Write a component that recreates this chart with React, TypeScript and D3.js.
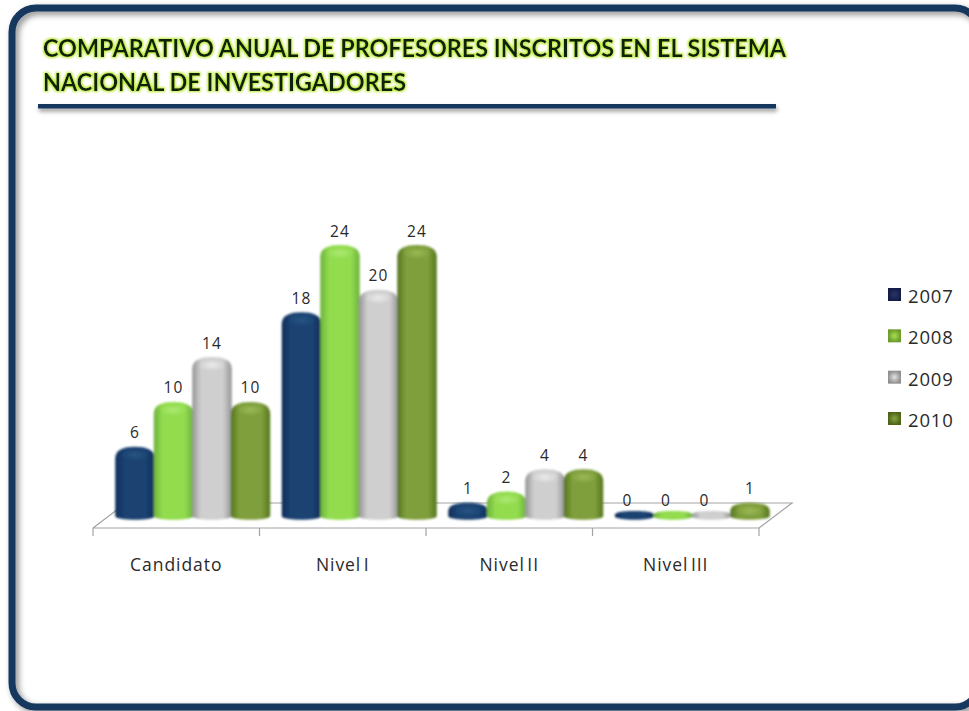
import React, { useEffect, useRef } from "react";
import * as d3 from "d3";

const categories = ["Candidato", "Nivel I", "Nivel II", "Nivel III"];
const years = ["2007", "2008", "2009", "2010"];
const values2007 = [6, 18, 1, 0];
const values2008 = [10, 24, 2, 0];
const values2009 = [14, 20, 4, 0];
const values2010 = [10, 24, 4, 1];
const seriesValues = [values2007, values2008, values2009, values2010];
const titleLines = [
  "COMPARATIVO ANUAL DE PROFESORES INSCRITOS EN EL SISTEMA",
  "NACIONAL DE INVESTIGADORES",
];

// edge, middle, highlight colour per series
const barColors = [
  ["#0f2c58", "#1a4272", "#275684"],
  ["#6db23c", "#92dc4e", "#aeea74"],
  ["#959595", "#cfcfcf", "#ececec"],
  ["#55761f", "#7f9f3c", "#9dbb58"],
];
const swatchColors = [
  ["#141c48", "#2a3568"],
  ["#6c9a2c", "#a8e04e"],
  ["#8f8f8f", "#e2e2e2"],
  ["#4d6418", "#86a33c"],
];

const FONT = "Lato, 'Open Sans', sans-serif";
const LABEL_FONT = "'Open Sans', Lato, sans-serif";
const NAVY = "#17375e";

const App = () => {
  const ref = useRef<SVGSVGElement | null>(null);

  useEffect(() => {
    const svg = d3.select(ref.current);
    svg.selectAll("*").remove();

    const defs = svg.append("defs");

    // soft shadow for frame and title rule
    const shadow = defs.append("filter").attr("id", "shadow")
      .attr("filterUnits", "userSpaceOnUse")
      .attr("x", 0).attr("y", 0).attr("width", 1000).attr("height", 720);
    shadow.append("feDropShadow").attr("dx", 3).attr("dy", 3)
      .attr("stdDeviation", 3).attr("flood-color", "#000").attr("flood-opacity", 0.45);

    const ruleShadow = defs.append("filter").attr("id", "ruleShadow")
      .attr("x", "-2%").attr("y", "-300%").attr("width", "104%").attr("height", "800%");
    ruleShadow.append("feDropShadow").attr("dx", 1).attr("dy", 3)
      .attr("stdDeviation", 2).attr("flood-color", "#000").attr("flood-opacity", 0.4);

    // green halo round the title
    const glow = defs.append("filter").attr("id", "glow")
      .attr("x", "-3%").attr("y", "-30%").attr("width", "106%").attr("height", "160%");
    glow.append("feMorphology").attr("in", "SourceAlpha").attr("operator", "dilate")
      .attr("radius", 1.2).attr("result", "fat");
    glow.append("feGaussianBlur").attr("in", "fat").attr("stdDeviation", 1.2).attr("result", "soft");
    glow.append("feFlood").attr("flood-color", "#b5e61d").attr("flood-opacity", 0.9).attr("result", "tint");
    glow.append("feComposite").attr("in", "tint").attr("in2", "soft").attr("operator", "in").attr("result", "halo");
    const merge = glow.append("feMerge");
    merge.append("feMergeNode").attr("in", "halo");
    merge.append("feMergeNode").attr("in", "SourceGraphic");

    const blur = defs.append("filter").attr("id", "blur");
    blur.append("feGaussianBlur").attr("stdDeviation", 0.8);

    barColors.forEach((c, i) => {
      const grad = defs.append("linearGradient").attr("id", `bar${i}`);
      grad.append("stop").attr("offset", "0%").attr("stop-color", c[0]);
      grad.append("stop").attr("offset", "22%").attr("stop-color", c[1]);
      grad.append("stop").attr("offset", "78%").attr("stop-color", c[1]);
      grad.append("stop").attr("offset", "100%").attr("stop-color", c[0]);

      const top = defs.append("radialGradient").attr("id", `top${i}`);
      top.append("stop").attr("offset", "0%").attr("stop-color", c[2]).attr("stop-opacity", 0.95);
      top.append("stop").attr("offset", "100%").attr("stop-color", c[2]).attr("stop-opacity", 0);
    });
    swatchColors.forEach((c, i) => {
      const grad = defs.append("radialGradient").attr("id", `swatch${i}`);
      grad.append("stop").attr("offset", "0%").attr("stop-color", c[1]);
      grad.append("stop").attr("offset", "100%").attr("stop-color", c[0]);
    });

    // frame, unfilled so that its shadow falls on the white inside
    svg.append("rect")
      .attr("x", 12).attr("y", 8).attr("width", 967).attr("height", 699)
      .attr("rx", 24).attr("fill", "none")
      .attr("stroke", NAVY).attr("stroke-width", 7)
      .attr("filter", "url(#shadow)");

    // title
    const titleWidths = [743, 363];
    svg.append("g").selectAll("text").data(titleLines).enter().append("text")
      .attr("x", 43)
      .attr("y", (d, i) => 57 + i * 34)
      .attr("textLength", (d, i) => titleWidths[i])
      .attr("lengthAdjust", "spacingAndGlyphs")
      .attr("font-family", FONT).attr("font-weight", 700).attr("font-size", 24.5)
      .attr("fill", "#10240c")
      .attr("filter", "url(#glow)")
      .text((d) => d);

    svg.append("rect")
      .attr("x", 38).attr("y", 104).attr("width", 738).attr("height", 4.5)
      .attr("fill", NAVY).attr("filter", "url(#ruleShadow)");

    // scales
    const x0 = d3.scaleBand().domain(categories).range([93, 759]);
    const x1 = d3.scaleBand().domain(years).range([-77, 77]);
    const y = d3.scaleLinear().domain([0, 24]).range([514, 245]);
    const depth = 16.5;
    const barBottom = 520;

    // floor of the 3D plot
    const floorFront = 528;
    const floorBack = 503;
    const floor = svg.append("g").attr("fill", "none").attr("stroke", "#a3a3a3").attr("stroke-width", 1.2);
    floor.append("path").attr("d",
      `M${x0.range()[0]},${floorFront}L${x0.range()[1]},${floorFront}L792,${floorBack}L126,${floorBack}L${x0.range()[0]},${floorFront}`);
    const tickX = categories.map((c) => x0(c) as number).concat(x0.range()[1]);
    floor.selectAll("line").data(tickX).enter().append("line")
      .attr("x1", (d) => d).attr("x2", (d) => d)
      .attr("y1", floorFront).attr("y2", floorFront + 8);

    // axis labels
    svg.append("g").selectAll("text").data(categories).enter().append("text")
      .attr("x", (d) => (x0(d) as number) + x0.bandwidth() / 2)
      .attr("y", 571)
      .attr("text-anchor", "middle")
      .attr("font-family", LABEL_FONT).attr("font-size", 17.5)
      .attr("letter-spacing", 0.95).attr("word-spacing", -3)
      .attr("fill", "#2a2a2a")
      .text((d) => d);

    // cylinders
    const cylinder = (cx: number, r: number, top: number) => {
      const p = d3.path();
      const c = Math.min(12, (barBottom - top) / 2);
      p.moveTo(cx - r, barBottom - 4);
      p.lineTo(cx - r, top + c);
      p.bezierCurveTo(cx - r, top + c * 0.25, cx - r * 0.6, top, cx, top);
      p.bezierCurveTo(cx + r * 0.6, top, cx + r, top + c * 0.25, cx + r, top + c);
      p.lineTo(cx + r, barBottom - 4);
      p.bezierCurveTo(cx + r, barBottom + 1, cx - r, barBottom + 1, cx - r, barBottom - 4);
      p.closePath();
      return p.toString();
    };

    const r = x1.bandwidth() / 2 + 0.5;
    const zeroLift = 3;
    const zeroLabelShift = -7;
    const bars = svg.append("g").attr("filter", "url(#blur)");
    categories.forEach((cat, ci) => {
      years.forEach((yr, si) => {
        const v = seriesValues[si][ci];
        const cx = (x0(cat) as number) + x0.bandwidth() / 2 + depth + (x1(yr) as number) + x1.bandwidth() / 2;
        const top = v === 0 ? y(0) - zeroLift : y(v);
        bars.append("path")
          .attr("d", cylinder(cx, r, top))
          .attr("fill", `url(#bar${si})`);
        if (v > 0) {
          bars.append("ellipse")
            .attr("cx", cx).attr("cy", top + 8)
            .attr("rx", r * 0.72).attr("ry", 6)
            .attr("fill", `url(#top${si})`);
        }
        svg.append("text")
          .attr("x", v === 0 ? cx + zeroLabelShift : cx)
          .attr("y", top - (v === 0 ? 5 : 8.5))
          .attr("text-anchor", "middle")
          .attr("font-family", LABEL_FONT).attr("font-size", 15.5)
          .attr("letter-spacing", 1.1)
          .attr("fill", "#2a2a2a")
          .text(v);
      });
    });

    // legend
    const legendY = d3.scalePoint().domain(years).range([288, 412]);
    const legend = svg.append("g");
    legend.selectAll("rect").data(years).enter().append("rect")
      .attr("x", 888).attr("y", (d) => legendY(d) as number)
      .attr("width", 13).attr("height", 13)
      .attr("fill", (d, i) => `url(#swatch${i})`);
    legend.selectAll("text").data(years).enter().append("text")
      .attr("x", 908).attr("y", (d) => (legendY(d) as number) + 15)
      .attr("font-family", LABEL_FONT).attr("font-size", 18.5)
      .attr("letter-spacing", 0.8)
      .attr("fill", "#2a2a2a")
      .text((d) => d);
  }, []);

  return (
    <svg
      ref={ref}
      width={969}
      height={711}
      style={{ position: "absolute", left: 0, top: 0, display: "block" }}
    />
  );
};

export default App;
